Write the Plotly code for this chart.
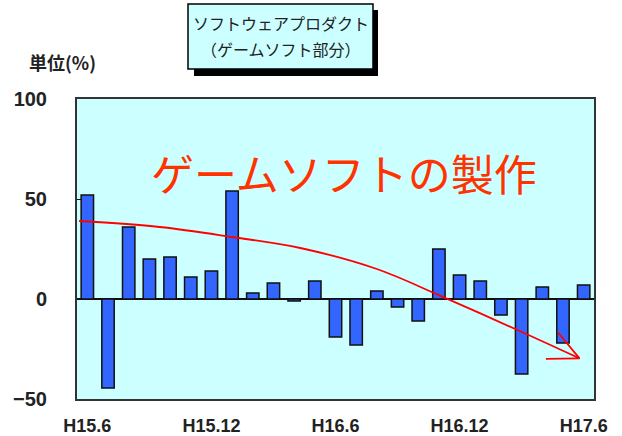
import plotly.graph_objects as go

months = ["H15.6","H15.7","H15.8","H15.9","H15.10","H15.11","H15.12",
          "H16.1","H16.2","H16.3","H16.4","H16.5","H16.6",
          "H16.7","H16.8","H16.9","H16.10","H16.11","H16.12",
          "H17.1","H17.2","H17.3","H17.4","H17.5","H17.6"]
values = [52, -44.5, 36, 20, 21, 11, 14, 54, 3, 8, -1, 9, -19, -23, 4, -4, -11,
          25, 12, 9, -8, -37.5, 6, -22, 7]
tick_labels = ["H15.6", "H15.12", "H16.6", "H16.12", "H17.6"]
y_ticks = [100, 50, 0, -50]
title_lines = ["ソフトウェアプロダクト", "（ゲームソフト部分）"]
trend_x = [-0.4, 3.5, 7.0, 10.3, 14.0, 17.05, 20.8, 23.8]
trend_y = [39, 36, 31, 25.5, 15, 1.7, -15.5, -29.7]

xs = list(range(len(months)))
tick_pos = [months.index(t) for t in tick_labels]

L, R, T, B = 77, 594, 99, 399
PW, PH = R - L, B - T
def px(x): return (x - L) / PW
def py(y): return (B - y) / PH

fig = go.Figure()
fig.add_trace(go.Bar(x=xs, y=values, width=0.6,
                     marker=dict(color="#3366ff", line=dict(color="#111111", width=1.5)),
                     hoverinfo="skip"))
fig.add_trace(go.Scatter(x=trend_x, y=trend_y, mode="lines",
                         line=dict(color="#ff0000", width=1.8, shape="spline"),
                         hoverinfo="skip"))
# arrow head
fig.add_annotation(x=trend_x[-1], y=trend_y[-1], ax=22.7, ay=-16, axref="x", ayref="y",
                   xref="x", yref="y", showarrow=True, arrowhead=0, arrowwidth=1.8,
                   arrowcolor="#ff0000", text="")
fig.add_annotation(x=trend_x[-1], y=trend_y[-1], ax=22.1, ay=-30, axref="x", ayref="y",
                   xref="x", yref="y", showarrow=True, arrowhead=0, arrowwidth=1.8,
                   arrowcolor="#ff0000", text="")

fig.add_annotation(x=px(344), y=py(172), xref="paper", yref="paper", text="ゲームソフトの製作",
                   showarrow=False, xanchor="center", yanchor="middle",
                   font=dict(family="Noto Sans CJK JP", size=43, color="#ff3300"))

fig.update_layout(
    width=622, height=436,
    margin=dict(l=L, r=622 - R, t=T, b=436 - B, autoexpand=False),
    paper_bgcolor="white", plot_bgcolor="#ccffff",
    showlegend=False,
)

fig.update_xaxes(range=[-0.5, 24.5], tickvals=tick_pos, ticktext=tick_labels,
                 showgrid=False, zeroline=False, showline=True, mirror=True, automargin=False,
                 linecolor="#333333", linewidth=2, ticks="", ticklabelstandoff=9,
                 tickfont=dict(family="Liberation Sans", size=18, color="#222222", weight="bold"))
fig.update_yaxes(range=[-50, 100], tickvals=y_ticks, showgrid=False, automargin=False,
                 zeroline=True, zerolinecolor="#111111", zerolinewidth=1.5,
                 showline=True, mirror=True, linecolor="#333333", linewidth=2,
                 ticks="inside", ticklen=5, tickcolor="#111111", ticklabelstandoff=24,
                 tickfont=dict(family="Liberation Sans", size=20, color="#222222", weight="bold"))

# title box with shadow
fig.add_shape(type="rect", xref="paper", yref="paper",
              x0=px(194), x1=px(378), y0=py(76), y1=py(10),
              fillcolor="black", line=dict(width=0), layer="above")
fig.add_shape(type="rect", xref="paper", yref="paper",
              x0=px(188), x1=px(373), y0=py(69), y1=py(4),
              fillcolor="#ccffff", line=dict(color="black", width=1.5), layer="above")
for line_text, yc in zip(title_lines, [23, 49]):
    fig.add_annotation(x=px(280.5), y=py(yc), xref="paper", yref="paper",
                       text=line_text, showarrow=False,
                       xanchor="center", yanchor="middle", align="center",
                       font=dict(family="Noto Sans CJK JP", size=16, color="#222222"))
fig.add_annotation(x=px(27), y=py(62), xref="paper", yref="paper", text="単位(%)",
                   showarrow=False, xanchor="left", yanchor="middle",
                   font=dict(family="Noto Sans CJK JP", size=18, color="#222222", weight="bold"))

fig.write_html("out.html", config={"displayModeBar": False},
               post_script="document.body.style.margin='0';document.body.style.overflow='hidden';")
